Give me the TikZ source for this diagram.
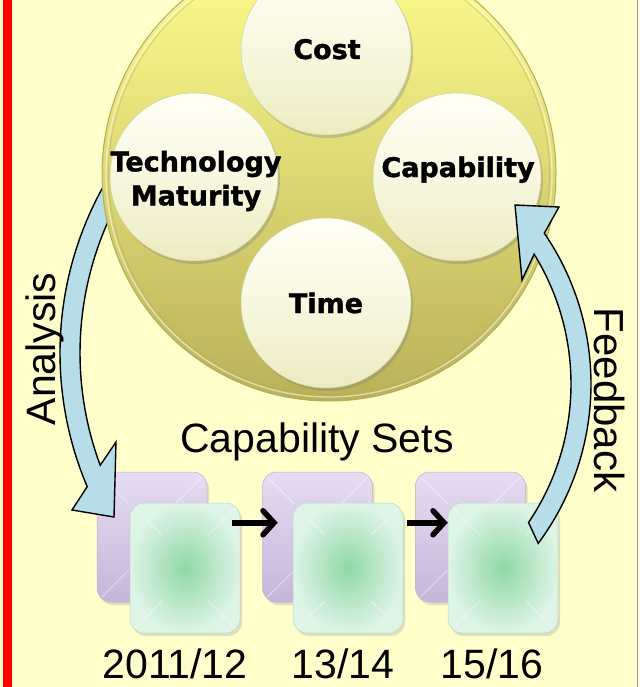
\documentclass[tikz,border=0pt]{standalone}
\usepackage{fontspec}
\setmainfont{Liberation Sans}
\newfontfamily\heavy{DejaVu Sans}[BoldFeatures={FakeBold=1.3}]
\usetikzlibrary{arrows.meta,shadows,calc}
\definecolor{cream}{HTML}{FFFFCC}
\definecolor{bandfill}{HTML}{B7DDE8}
\definecolor{bigTop}{HTML}{FFFF90}
\definecolor{bigMid}{HTML}{E6E28C}
\definecolor{bigBot}{HTML}{B9B158}
\definecolor{bigRim}{HTML}{B5AD55}
\definecolor{ballTop}{HTML}{FFFFF6}
\definecolor{ballBot}{HTML}{ECECC0}
\definecolor{ballEdge}{HTML}{D2D2A0}
\definecolor{purpTop}{HTML}{E6DCF2}
\definecolor{purpBot}{HTML}{C6B6DA}
\definecolor{purpEdge}{HTML}{BEB0D2}
\definecolor{greenIn}{HTML}{90D8A6}
\definecolor{greenOut}{HTML}{DDF4E6}
\definecolor{greenEdge}{HTML}{B8DCC4}
\tikzset{
  ball/.style={circle, inner sep=0pt, top color=ballTop, bottom color=ballBot, middle color=ballTop!60!ballBot,
    draw=ballEdge, line width=0.5pt,
    drop shadow={shadow xshift=2pt, shadow yshift=-3pt, opacity=0.35}},
  backbox/.style={rounded corners=14pt, minimum width=110pt, minimum height=130pt, inner sep=0pt,
    top color=purpTop, bottom color=purpBot, draw=purpEdge, line width=0.5pt,
    drop shadow={shadow xshift=2pt, shadow yshift=-3pt, opacity=0.25}},
  frontbox/.style={rounded corners=14pt, minimum width=110pt, minimum height=130pt, inner sep=0pt,
    inner color=greenIn, outer color=greenOut, draw=greenEdge, line width=0.5pt,
    drop shadow={shadow xshift=2pt, shadow yshift=-3pt, opacity=0.25}},
  crease/.style={white, opacity=0.45, line width=1pt},
  band/.style={fill=bandfill, draw=black, line width=1.4pt, line join=miter},
  blackarrow/.style={line width=5.5pt, -{Straight Barb[length=11pt, width=24pt, line cap=round]}},
  bigtext/.style={font=\heavy\bfseries\fontsize{27pt}{34pt}\selectfont, inner sep=0pt},
  plaintext/.style={font=\fontsize{41pt}{48pt}\selectfont, inner sep=0pt}
}
\newcommand\creases[1]{%
  \draw[crease] ($(#1.north west)+(5,5)$) -- ($(#1.north west)+(32,32)$);
  \draw[crease] ($(#1.north east)+(-5,5)$) -- ($(#1.north east)+(-32,32)$);
  \draw[crease] ($(#1.south west)+(5,-5)$) -- ($(#1.south west)+(32,-32)$);
  \draw[crease] ($(#1.south east)+(-5,-5)$) -- ($(#1.south east)+(-32,-32)$);}
\begin{document}
\begin{tikzpicture}[x=1pt, y=-1pt]
\useasboundingbox (0,0) rectangle (639,687);
\fill[cream] (0,0) rectangle (639,687);
\fill[red] (3,0) rectangle (12,687);
\draw[black!40, line width=1.5pt] (637.5,0) -- (637.5,687);

% capability set boxes
\node[backbox] (p1) at (152,537) {};
\creases{p1}
\node[frontbox] (g1) at (185,568) {};
\creases{g1}
\node[backbox] (p2) at (317.5,537) {};
\creases{p2}
\node[frontbox] (g2) at (348,568) {};
\creases{g2}
\node[backbox] (p3) at (470.5,537) {};
\creases{p3}
\node[frontbox] (g3) at (503,568) {};
\creases{g3}

% arrows between sets
\coordinate (a1s) at ($(g1.north east)+(-8,20)$);
\coordinate (a1e) at ($(g2.north west)+(-15,20)$);
\coordinate (a2s) at ($(g2.north east)+(4,20)$);
\coordinate (a2e) at ($(g3.north west)+(0,20)$);
\draw[blackarrow] (a1s) -- (a1e);
\draw[blackarrow] (a2s) -- (a2e);

% Analysis arrow (behind the big circle)
\coordinate (ca) at (402,353);
\coordinate (anTip) at (114,517);
\coordinate (anB1) at (72,510);
\coordinate (anB2) at (116,442);
\draw[band] ($(ca)+(215:342)$) arc[start angle=215, end angle=157, radius=342]
  -- (anB1) -- (anTip) -- (anB2) -- ($(ca)+(159.6:322)$)
  arc[start angle=159.6, end angle=215, radius=322] -- cycle;

% big circle
\coordinate (big) at (329,174);
\shade[top color=bigTop, middle color=bigMid, bottom color=bigBot] (big) circle[radius=227];
\draw[bigRim, line width=1pt] (big) circle[radius=227];
\draw[white, opacity=0.55, line width=1.3pt] (big) circle[radius=223];
\draw[bigRim, opacity=0.5, line width=0.8pt] (big) circle[radius=220.5];

% small circles
\node[ball, minimum size=170pt] (cost) at (326,50) {};
\node[ball, minimum size=168pt] (tech) at (194,177) {};
\node[ball, minimum size=168pt] (capc) at (457,177) {};
\node[ball, minimum size=170pt] (time) at (326,303) {};

\node[bigtext, anchor=base] (costT) at (327,59) {Cost};
\node[bigtext, align=center] (techT) at (196,181) {Technology\\Maturity};
\node[bigtext, anchor=base] (capT) at (458,177) {Capability};
\node[bigtext, anchor=base] (timeT) at (326,313) {Time};

% Feedback arrow (in front)
\coordinate (cf) at (324,384);
\coordinate (fbTip) at (515,205);
\coordinate (fbB1) at (559,207);
\coordinate (fbB2) at (522,280);
\draw[band] ($(cf)+(36.65:267)$) arc[start angle=36.65, end angle=-34.4, radius=267]
  -- (fbB1) -- (fbTip) -- (fbB2) -- ($(cf)+(-31.7:247)$)
  arc[start angle=-31.7, end angle=34.1, radius=247] -- cycle;

% labels
\node[plaintext, rotate=90, anchor=base] (anL) at (55,349) {Analysis};
\node[font=\fontsize{42pt}{48pt}\selectfont, inner sep=0pt, rotate=-90, anchor=base] (fbL) at (594,400) {Feedback};
\node[plaintext, anchor=base] (setsL) at (317,452) {Capability Sets};
\node[plaintext, anchor=base] (y1) at (175,678) {2011/12};
\node[plaintext, anchor=base] (y2) at (343,678) {13/14};
\node[plaintext, anchor=base] (y3) at (492,678) {15/16};
\end{tikzpicture}
\end{document}
